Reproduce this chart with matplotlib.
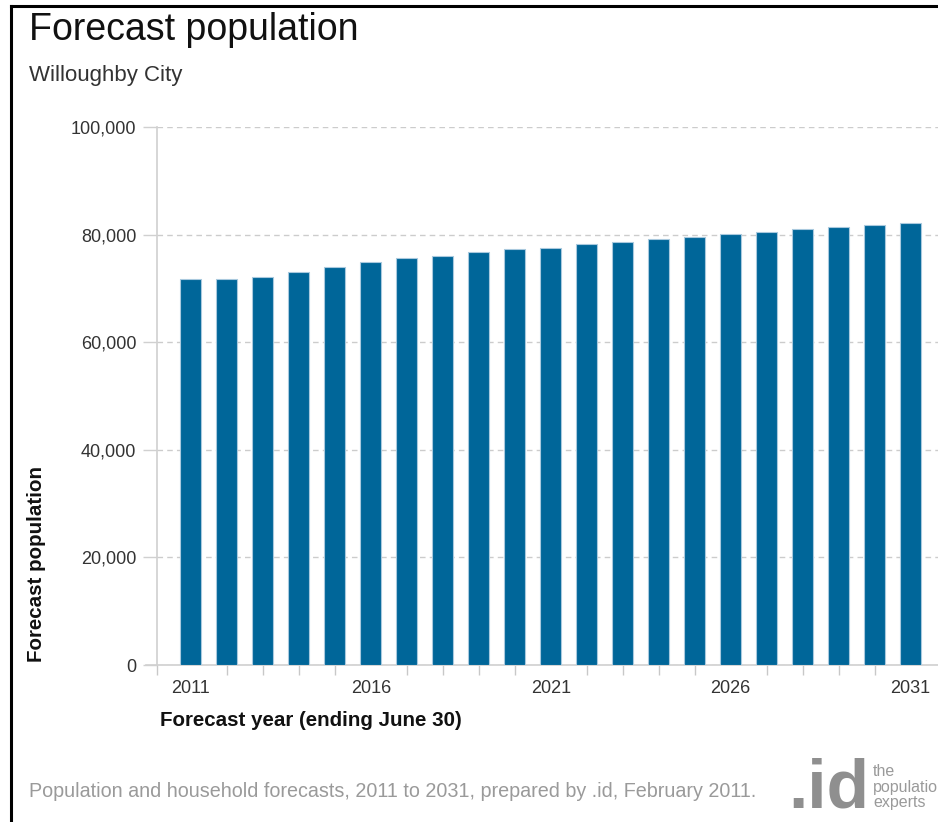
import matplotlib
matplotlib.use('Agg')
import matplotlib.pyplot as plt
from matplotlib.lines import Line2D
from matplotlib.ticker import FuncFormatter

# Forecast data
years = list(range(2011, 2032))
population = [71800, 71800, 72100, 73100, 74000, 75000, 75600, 76000, 76700, 77300,
              77600, 78300, 78600, 79200, 79600, 80200, 80500, 81100, 81500, 81800, 82100]
label_years = [2011, 2016, 2021, 2026, 2031]
y_ticks = [0, 20000, 40000, 60000, 80000, 100000]

plt.rcParams['font.family'] = ['Liberation Sans', 'DejaVu Sans']

W, H = 938, 822
fig = plt.figure(figsize=(W / 100, H / 100), dpi=100)
ax = fig.add_axes([157 / W, 1 - 665 / H, (W - 157) / W, (665 - 127) / H])

ax.bar(years, population, width=0.58, color='#006699', edgecolor='#a9c9de',
       linewidth=0.8, zorder=3)

ax.set_xlim(2010.06, 2031.76)
ax.set_ylim(0, 100000)

# Grid and spines
ax.set_yticks(y_ticks)
ax.yaxis.set_major_formatter(FuncFormatter(lambda v, p: f'{int(v):,}'))
ax.grid(axis='y', color='#cccccc', linestyle=(0, (4, 3)), linewidth=1, zorder=0)
for s in ['top', 'right']:
    ax.spines[s].set_visible(False)
ax.spines['left'].set_color('#d0d0d0')
ax.spines['bottom'].set_color('#d0d0d0')
ax.spines['left'].set_linewidth(1.2)
ax.spines['bottom'].set_linewidth(1.2)
ax.spines['bottom'].set_bounds(2010.06 - 0.3, 2031.76)

ax.tick_params(axis='y', length=10, width=1, color='#d0d0d0', labelsize=13,
               labelcolor='#333333', pad=5)
ax.set_xticks(label_years)
ax.set_xticks([y for y in years if y not in label_years] + [2010.06], minor=True)
ax.tick_params(axis='x', which='major', length=0, labelsize=13, labelcolor='#333333', pad=11)
ax.tick_params(axis='x', which='minor', length=7, width=1, color='#c8c8c8')

# Titles and labels
fig.text(29 / W, 1 - 30 / H, 'Forecast population', fontsize=27, color='#111111',
         ha='left', va='center')
fig.text(29 / W, 1 - 75 / H, 'Willoughby City', fontsize=16, color='#333333',
         ha='left', va='center')
fig.text(37 / W, 1 - 564 / H, 'Forecast population', fontsize=14.8, fontweight='bold',
         rotation=90, ha='center', va='center', color='#111111')
fig.text(160 / W, 1 - 720 / H, 'Forecast year (ending June 30)', fontsize=14.8,
         fontweight='bold', ha='left', va='center', color='#111111')
fig.text(29 / W, 1 - 791 / H,
         'Population and household forecasts, 2011 to 2031, prepared by .id, February 2011.',
         fontsize=14.2, color='#9a9a9a', ha='left', va='center')

# Logo
fig.text(788 / W, 1 - 821 / H, '.id', fontsize=50, fontweight='bold',
         color='#8f8f8f', ha='left', va='bottom')
fig.text(873 / W, 1 - 764 / H, 'the\npopulation\nexperts', fontsize=11.5,
         color='#9a9a9a', ha='left', va='top', linespacing=1.05)

# Frame (left and top edges)
fig.add_artist(Line2D([11 / W, 11 / W], [0, 1 - 6 / H], color='black', linewidth=2.2,
                      transform=fig.transFigure))
fig.add_artist(Line2D([11 / W, 1], [1 - 6 / H, 1 - 6 / H], color='black', linewidth=2.2,
                      transform=fig.transFigure))

fig.savefig('out.png', dpi=100)
